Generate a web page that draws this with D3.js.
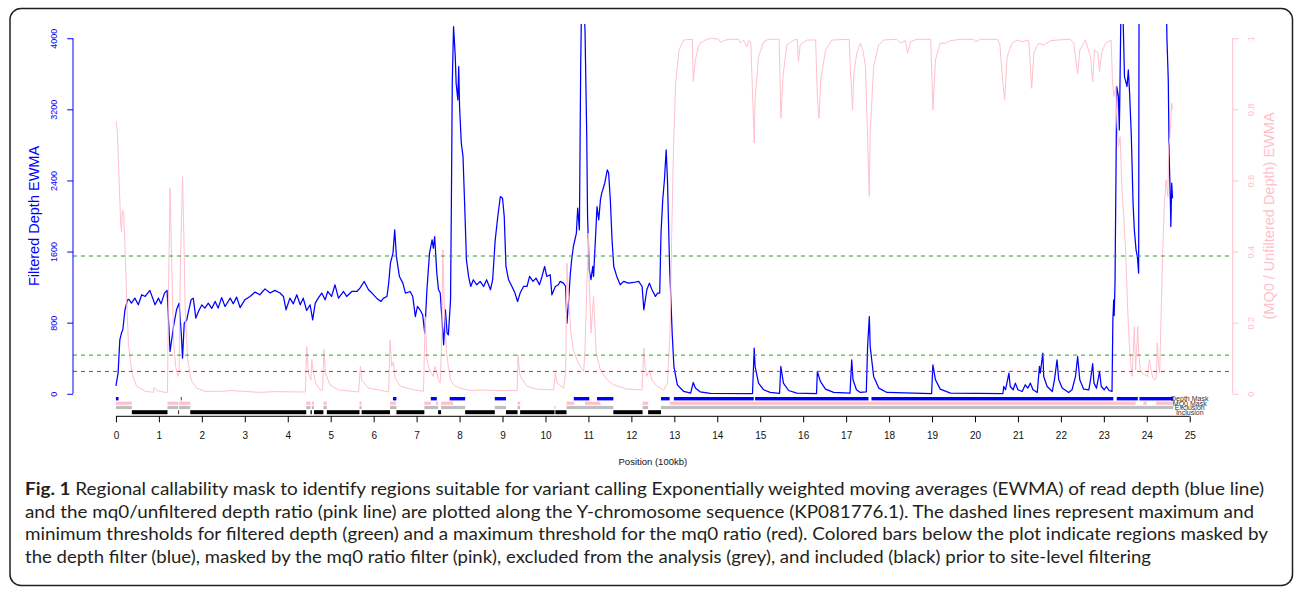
<!DOCTYPE html>
<html><head><meta charset="utf-8">
<script src="https://cdn.jsdelivr.net/npm/d3@7"></script>
<style>body{margin:0;background:#fff}svg{display:block}</style>
</head><body>
<svg id="c" width="1295" height="590"></svg>
<script>
// ---------------- data ----------------
const xTicks = d3.range(0, 26);
const depthTicks = [0, 800, 1600, 2400, 3200, 4000];
const mq0Ticks = [0, 0.2, 0.4, 0.6, 0.8, 1];
const mq0TickLabels = ["0", "0.2", "0.4", "0.6", "0.8", "1"];
const depthThresholds = [1550, 435];
const mq0Threshold = 0.063;

const depthEWMA = [[0,90],[0.05,233],[0.09,607],[0.13,686],[0.16,720],[0.21,945],[0.27,1057],[0.3,1062],[0.36,1020],[0.44,1076],[0.52,1001],[0.6,1114],[0.68,1095],[0.79,1163],[0.91,1001],[0.99,1076],[1.05,1012],[1.13,1133],[1.19,1163],[1.22,869],[1.26,476],[1.34,757],[1.41,945],[1.47,1020],[1.52,683],[1.55,401],[1.59,795],[1.65,832],[1.68,907],[1.75,1057],[1.8,1076],[1.86,851],[1.92,926],[2.0,1001],[2.07,964],[2.15,1020],[2.23,960],[2.31,1039],[2.38,964],[2.46,1082],[2.54,982],[2.66,1076],[2.73,1012],[2.81,1087],[2.89,970],[3.0,1057],[3.12,1095],[3.24,1144],[3.35,1114],[3.47,1180],[3.59,1133],[3.7,1163],[3.82,1133],[3.9,1095],[3.96,945],[4.05,1076],[4.13,1012],[4.21,1114],[4.29,1001],[4.36,1076],[4.44,937],[4.52,1001],[4.58,832],[4.64,1020],[4.71,1076],[4.79,1133],[4.87,1057],[4.93,1151],[5.02,1095],[5.1,1226],[5.18,1076],[5.3,1151],[5.37,1095],[5.49,1151],[5.61,1151],[5.68,1189],[5.78,1263],[5.88,1170],[5.96,1133],[6.07,1076],[6.17,1039],[6.23,1076],[6.31,1094],[6.35,1245],[6.39,1470],[6.45,1582],[6.49,1844],[6.53,1544],[6.6,1319],[6.68,1245],[6.74,1132],[6.85,1151],[6.91,1095],[6.97,869],[7.02,982],[7.08,945],[7.14,889],[7.19,683],[7.24,1170],[7.3,1582],[7.36,1732],[7.39,1639],[7.42,1769],[7.47,1357],[7.51,1170],[7.55,1133],[7.59,832],[7.63,551],[7.67,945],[7.71,683],[7.74,664],[7.79,1057],[7.81,2182],[7.83,3494],[7.86,4130],[7.9,3793],[7.92,3495],[7.96,3306],[7.98,3681],[8.0,3231],[8.04,2819],[8.08,2670],[8.12,2106],[8.16,1507],[8.21,1319],[8.26,1207],[8.32,1283],[8.4,1226],[8.48,1264],[8.56,1207],[8.63,1283],[8.72,1170],[8.77,1283],[8.83,1732],[8.89,1994],[8.95,2219],[9.0,2201],[9.04,1994],[9.08,1432],[9.14,1283],[9.22,1207],[9.29,1133],[9.35,1038],[9.41,1133],[9.49,1207],[9.57,1207],[9.63,1320],[9.71,1264],[9.78,1301],[9.86,1226],[9.92,1320],[9.98,1432],[10.03,1320],[10.11,1339],[10.15,1113],[10.23,1207],[10.3,1226],[10.34,1264],[10.42,1245],[10.47,1207],[10.5,795],[10.54,1057],[10.58,1358],[10.61,1508],[10.65,1657],[10.72,1808],[10.75,2088],[10.79,1844],[10.82,3681],[10.84,4400],[10.89,4400],[10.92,4100],[10.96,2932],[10.98,1995],[11.02,1394],[11.06,1283],[11.1,1432],[11.12,1320],[11.17,1807],[11.2,2106],[11.24,1957],[11.28,2182],[11.31,2258],[11.38,2369],[11.44,2519],[11.47,2483],[11.51,2183],[11.55,1733],[11.59,1432],[11.66,1320],[11.74,1226],[11.82,1264],[11.93,1245],[12.05,1252],[12.17,1264],[12.25,1207],[12.29,945],[12.36,1170],[12.42,1245],[12.48,1170],[12.56,1095],[12.61,1133],[12.66,1133],[12.69,1807],[12.73,2183],[12.77,2408],[12.81,2744],[12.84,2408],[12.89,1432],[12.95,683],[12.99,307],[13.07,100],[13.22,26],[13.38,8],[13.44,127],[13.49,64],[13.6,22],[13.84,4],[14.82,3],[14.86,514],[14.88,307],[14.96,120],[15.08,45],[15.23,15],[15.45,4],[15.48,307],[15.54,120],[15.66,37],[15.85,7],[16.31,3],[16.33,251],[16.4,139],[16.52,52],[16.71,15],[17.09,7],[17.13,382],[17.16,157],[17.24,45],[17.33,15],[17.47,22],[17.5,532],[17.54,869],[17.56,532],[17.64,195],[17.76,64],[17.95,15],[18.99,3],[19.02,326],[19.08,157],[19.19,52],[19.43,7],[20.65,3],[20.67,82],[20.71,45],[20.79,232],[20.82,82],[20.89,45],[20.94,120],[21.0,45],[21.1,26],[21.17,101],[21.23,64],[21.29,120],[21.35,45],[21.45,15],[21.5,307],[21.52,232],[21.58,457],[21.6,195],[21.68,82],[21.8,26],[21.85,157],[21.91,382],[21.95,157],[22.03,64],[22.18,15],[22.26,45],[22.34,195],[22.39,420],[22.44,157],[22.53,52],[22.65,45],[22.69,157],[22.74,340],[22.77,120],[22.83,64],[22.9,251],[22.94,82],[23.01,45],[23.06,82],[23.12,37],[23.19,26],[23.21,832],[23.23,1057],[23.24,880],[23.26,1245],[23.28,2331],[23.3,3456],[23.34,3343],[23.36,2969],[23.37,3270],[23.4,4400],[23.44,4400],[23.48,3569],[23.5,3532],[23.54,3457],[23.57,3643],[23.6,3382],[23.64,2894],[23.68,2144],[23.71,1844],[23.75,1619],[23.78,1544],[23.81,1357],[23.82,4500],[24.45,4500],[24.47,3981],[24.5,3531],[24.52,2707],[24.55,2144],[24.56,1881],[24.58,2369],[24.6,2200]];

const mq0EWMA = [[0,0.766],[0.03,0.742],[0.07,0.611],[0.11,0.48],[0.13,0.456],[0.15,0.517],[0.18,0.508],[0.21,0.414],[0.25,0.264],[0.29,0.143],[0.37,0.058],[0.48,0.021],[0.68,0.007],[0.87,0.004],[0.89,0.019],[0.95,0.009],[1.14,0.004],[1.2,0.004],[1.22,0.264],[1.26,0.578],[1.3,0.358],[1.34,0.152],[1.39,0.077],[1.44,0.049],[1.47,0.058],[1.5,0.358],[1.55,0.611],[1.58,0.452],[1.61,0.245],[1.67,0.096],[1.75,0.039],[1.88,0.016],[2.07,0.007],[2.46,0.007],[2.66,0.009],[3.35,0.004],[3.7,0.006],[4.41,0.005],[4.44,0.133],[4.48,0.058],[4.54,0.039],[4.56,0.096],[4.6,0.058],[4.65,0.03],[4.75,0.011],[4.81,0.011],[4.84,0.124],[4.88,0.058],[4.98,0.025],[5.18,0.011],[5.65,0.005],[5.69,0.077],[5.72,0.039],[5.88,0.016],[6.11,0.011],[6.35,0.005],[6.38,0.152],[6.42,0.077],[6.46,0.09],[6.5,0.045],[6.62,0.021],[6.93,0.011],[7.16,0.007],[7.2,0.217],[7.24,0.096],[7.3,0.067],[7.39,0.049],[7.43,0.077],[7.47,0.058],[7.51,0.039],[7.55,0.03],[7.59,0.171],[7.61,0.405],[7.64,0.264],[7.69,0.124],[7.74,0.077],[7.79,0.039],[7.86,0.025],[8.01,0.016],[8.26,0.009],[8.48,0.011],[8.87,0.009],[9.34,0.009],[9.36,0.11],[9.41,0.049],[9.57,0.021],[9.8,0.013],[10.19,0.011],[10.23,0.058],[10.27,0.03],[10.42,0.016],[10.47,0.058],[10.5,0.367],[10.54,0.264],[10.59,0.171],[10.65,0.124],[10.73,0.096],[10.81,0.077],[10.89,0.063],[10.92,0.124],[11.0,0.452],[11.02,0.311],[11.06,0.171],[11.12,0.274],[11.18,0.114],[11.28,0.067],[11.44,0.039],[11.59,0.025],[11.9,0.013],[12.25,0.011],[12.29,0.128],[12.32,0.077],[12.36,0.049],[12.42,0.067],[12.48,0.039],[12.6,0.021],[12.75,0.011],[12.84,0.03],[12.9,0.171],[12.94,0.452],[12.98,0.686],[13.03,0.873],[13.11,0.967],[13.22,0.995],[13.42,0.997],[13.44,0.878],[13.49,0.939],[13.56,0.976],[13.6,0.986],[13.76,0.997],[13.88,1.0],[14.03,0.997],[14.08,0.988],[14.15,0.993],[14.26,0.997],[14.5,0.997],[14.54,0.986],[14.61,0.995],[14.69,0.976],[14.73,0.993],[14.78,0.99],[14.86,0.705],[14.88,0.827],[14.96,0.948],[15.08,0.99],[15.19,0.997],[15.44,0.997],[15.48,0.775],[15.53,0.892],[15.62,0.981],[15.78,0.995],[15.86,0.997],[15.89,0.934],[15.93,0.981],[16.09,0.995],[16.29,0.995],[16.33,0.836],[16.37,0.775],[16.41,0.883],[16.52,0.967],[16.67,0.995],[17.07,0.997],[17.1,0.911],[17.15,0.798],[17.18,0.902],[17.25,0.958],[17.33,0.986],[17.39,0.967],[17.45,0.92],[17.54,0.555],[17.56,0.733],[17.64,0.92],[17.76,0.981],[17.87,0.995],[18.18,0.997],[18.26,0.986],[18.38,0.993],[18.43,0.958],[18.5,0.99],[18.65,0.997],[18.97,0.997],[19.02,0.798],[19.08,0.939],[19.19,0.986],[19.31,0.986],[19.43,0.993],[19.66,0.997],[19.97,0.997],[20.01,0.99],[20.13,0.997],[20.53,0.997],[20.58,0.981],[20.65,0.873],[20.69,0.827],[20.75,0.948],[20.86,0.986],[20.98,0.995],[21.1,0.99],[21.25,0.995],[21.32,0.859],[21.37,0.958],[21.48,0.986],[21.6,0.981],[21.76,0.993],[21.91,0.995],[22.22,0.997],[22.3,0.986],[22.39,0.9],[22.44,0.967],[22.57,0.995],[22.69,0.948],[22.74,0.878],[22.78,0.967],[22.86,0.96],[22.9,0.906],[22.95,0.96],[23.04,0.986],[23.17,0.995],[23.2,0.883],[23.23,0.836],[23.28,0.864],[23.3,0.77],[23.34,0.695],[23.38,0.723],[23.41,0.611],[23.43,0.555],[23.46,0.508],[23.51,0.396],[23.55,0.255],[23.59,0.143],[23.64,0.067],[23.66,0.049],[23.71,0.189],[23.74,0.067],[23.79,0.189],[23.81,0.114],[23.85,0.067],[23.89,0.058],[24.02,0.049],[24.06,0.096],[24.1,0.067],[24.14,0.044],[24.2,0.039],[24.23,0.058],[24.24,0.143],[24.28,0.077],[24.3,0.058],[24.33,0.208],[24.37,0.396],[24.41,0.536],[24.45,0.602],[24.49,0.555],[24.51,0.695],[24.54,0.723],[24.58,0.817],[24.6,0.8]];

const depthMask = [[0,0.06],[1.51,1.53],[6.45,6.53],[7.33,7.47],[7.77,8.13],[8.82,9.08],[10.66,11.02],[11.2,11.58],[12.69,12.89],[12.99,14.85],[14.88,17.52],[17.59,23.22],[23.3,23.79],[23.83,24.62]];
const mq0Mask = [[0,0.37],[1.2,1.45],[1.47,1.73],[4.43,4.53],[4.56,4.61],[4.83,4.91],[5.67,5.72],[6.38,6.52],[7.18,7.33],[7.45,7.5],[7.57,7.85],[9.35,9.41],[10.49,10.67],[10.92,11.28],[12.26,12.39],[12.89,23.74],[23.92,24.0],[24.22,24.62]];
const exclusion = [[0,0.37],[1.2,1.45],[1.47,1.73],[4.43,4.53],[4.56,4.61],[4.83,4.91],[5.67,5.72],[6.38,6.53],[7.18,7.5],[7.57,8.13],[8.82,9.08],[9.35,9.41],[10.21,10.23],[10.49,11.58],[12.26,12.39],[12.69,24.62]];
const inclusion = [[0.37,1.2],[1.45,1.47],[1.73,4.43],[4.53,4.56],[4.61,4.83],[4.91,5.67],[5.72,6.38],[6.53,7.18],[7.5,7.57],[8.13,8.82],[9.08,9.35],[9.41,10.21],[10.23,10.49],[11.58,12.26],[12.39,12.69]];
const maskNames = ["Depth Mask", "MQ0 Mask", "Exclusion", "Inclusion"];

const captionLines = [
  ["Fig. 1", " Regional callability mask to identify regions suitable for variant calling Exponentially weighted moving averages (EWMA) of read depth (blue line)"],
  ["", "and the mq0/unfiltered depth ratio (pink line) are plotted along the Y-chromosome sequence (KP081776.1). The dashed lines represent maximum and"],
  ["", "minimum thresholds for filtered depth (green) and a maximum threshold for the mq0 ratio (red). Colored bars below the plot indicate regions masked by"],
  ["", "the depth filter (blue), masked by the mq0 ratio filter (pink), excluded from the analysis (grey), and included (black) prior to site-level filtering"]
];

// ---------------- drawing ----------------
const svg = d3.select("#c");
const W = 1295, H = 590;
const axisFont = "'Liberation Sans', Arial, Helvetica, sans-serif";
const BLUE = "#0000ff", PINK = "#ffc0cb";

// frame
svg.append("rect").attr("x", 10).attr("y", 8.5).attr("width", 1282.5).attr("height", 577)
  .attr("rx", 11).attr("ry", 11).attr("fill", "none").attr("stroke", "#231f20").attr("stroke-width", 1.5);

const x = d3.scaleLinear().domain([-1, 26]).range([73, 1232.7]);
const yD = d3.scaleLinear().domain([-160, 4160]).range([408, 24]);
const yM = d3.scaleLinear().domain([-0.04, 1.04]).range([408, 24]);

svg.append("defs").append("clipPath").attr("id", "plotclip")
  .append("rect").attr("x", 73).attr("y", 24).attr("width", 1232.7 - 73).attr("height", 408 - 24);

const plot = svg.append("g").attr("clip-path", "url(#plotclip)");

// lines
plot.append("path").datum(depthEWMA)
  .attr("d", d3.line().x(d => x(d[0])).y(d => yD(d[1])))
  .attr("fill", "none").attr("stroke", BLUE).attr("stroke-width", 1.25).attr("stroke-linejoin", "round");
plot.append("path").datum(mq0EWMA)
  .attr("d", d3.line().x(d => x(d[0])).y(d => yM(d[1])))
  .attr("fill", "none").attr("stroke", PINK).attr("stroke-width", 1).attr("stroke-linejoin", "round");

// threshold lines
depthThresholds.forEach(t => {
  plot.append("line").attr("x1", 73).attr("x2", 1232.7).attr("y1", yD(t)).attr("y2", yD(t))
    .attr("stroke", "#2e9a2e").attr("stroke-width", 1).attr("stroke-dasharray", "4,4");
});
plot.append("line").attr("x1", 73).attr("x2", 1232.7).attr("y1", yM(mq0Threshold)).attr("y2", yM(mq0Threshold))
  .attr("stroke", "#d02b2b").attr("stroke-width", 1).attr("stroke-dasharray", "4,4");

// mask bars
const maskRows = [
  {data: depthMask, color: BLUE, y0: 397, y1: 400.4},
  {data: mq0Mask, color: PINK, y0: 401.6, y1: 404.8},
  {data: exclusion, color: "#bebebe", y0: 405.9, y1: 409.1},
  {data: inclusion, color: "#000000", y0: 410.2, y1: 414.2}
];
maskRows.forEach((row, i) => {
  svg.append("g").selectAll("rect").data(row.data).join("rect")
    .attr("x", d => x(d[0])).attr("width", d => Math.max(0.8, x(d[1]) - x(d[0])))
    .attr("y", row.y0).attr("height", row.y1 - row.y0).attr("fill", row.color);
  svg.append("text").attr("x", x(25)).attr("y", (row.y0 + row.y1) / 2 + 2.3)
    .attr("text-anchor", "middle").attr("font-family", axisFont).attr("font-size", 7)
    .attr("fill", "#333").text(maskNames[i]);
});

// x axis
const xAxisY = 416.3;
const gx = svg.append("g").attr("transform", `translate(0,${xAxisY})`)
  .call(d3.axisBottom(x).tickValues(xTicks).tickSize(6).tickPadding(10).tickFormat(d3.format("d")));
gx.select(".domain").attr("d", `M${x(0)},0H${x(25)}`).attr("stroke", "#000");
gx.selectAll(".tick line").attr("stroke", "#000");
gx.selectAll("text").attr("font-family", axisFont).attr("font-size", 10).attr("fill", "#111");
svg.append("text").attr("x", x(12.5)).attr("y", 465).attr("text-anchor", "middle")
  .attr("font-family", axisFont).attr("font-size", 9.5).attr("fill", "#111").text("Position (100kb)");

// left axis
const gl = svg.append("g").attr("transform", `translate(${x(-1)},0)`)
  .call(d3.axisLeft(yD).tickValues(depthTicks).tickSize(5.8).tickFormat(d3.format("d")));
gl.select(".domain").attr("d", `M0,${yD(0)}V${yD(4000)}`).attr("stroke", BLUE);
gl.selectAll(".tick line").attr("stroke", BLUE);
gl.selectAll(".tick text").attr("x", null).attr("dy", null)
  .attr("transform", "translate(-16.5,0) rotate(-90)")
  .attr("text-anchor", "middle").attr("font-family", axisFont).attr("font-size", 9).attr("fill", BLUE);
svg.append("text").attr("transform", `translate(38.6,${(yD(0) + yD(4000)) / 2}) rotate(-90)`)
  .attr("text-anchor", "middle").attr("font-family", axisFont).attr("font-size", 14.5)
  .attr("fill", BLUE).text("Filtered Depth EWMA");

// right axis
const gr = svg.append("g").attr("transform", `translate(${x(26)},0)`)
  .call(d3.axisRight(yM).tickValues(mq0Ticks).tickSize(5.8).tickFormat((d, i) => mq0TickLabels[i]));
gr.select(".domain").attr("d", `M0,${yM(0)}V${yM(1)}`).attr("stroke", PINK);
gr.selectAll(".tick line").attr("stroke", PINK);
gr.selectAll(".tick text").attr("x", null).attr("dy", null)
  .attr("transform", "translate(20.8,0) rotate(-90)")
  .attr("text-anchor", "middle").attr("font-family", axisFont).attr("font-size", 9).attr("fill", PINK);
svg.append("text").attr("transform", `translate(1273.5,${(yM(0) + yM(1)) / 2}) rotate(-90)`)
  .attr("text-anchor", "middle").attr("font-family", axisFont).attr("font-size", 14.5)
  .attr("fill", PINK).text("(MQ0 / Unfiltered Depth) EWMA");

// caption
const capEnds = [1264, 1254, 1268, 1151];
const capBase = [495, 517.7, 540.3, 563];
captionLines.forEach((ln, i) => {
  const t = svg.append("text").attr("x", 25).attr("y", capBase[i])
    .attr("font-family", "Lato, 'Open Sans', sans-serif").attr("font-size", 16.6).attr("fill", "#231f20")
    .attr("textLength", capEnds[i] - 25).attr("lengthAdjust", "spacingAndGlyphs");
  if (ln[0]) t.append("tspan").attr("font-weight", "bold").text(ln[0]);
  t.append("tspan").text(ln[1]);
});
</script>
</body></html>
